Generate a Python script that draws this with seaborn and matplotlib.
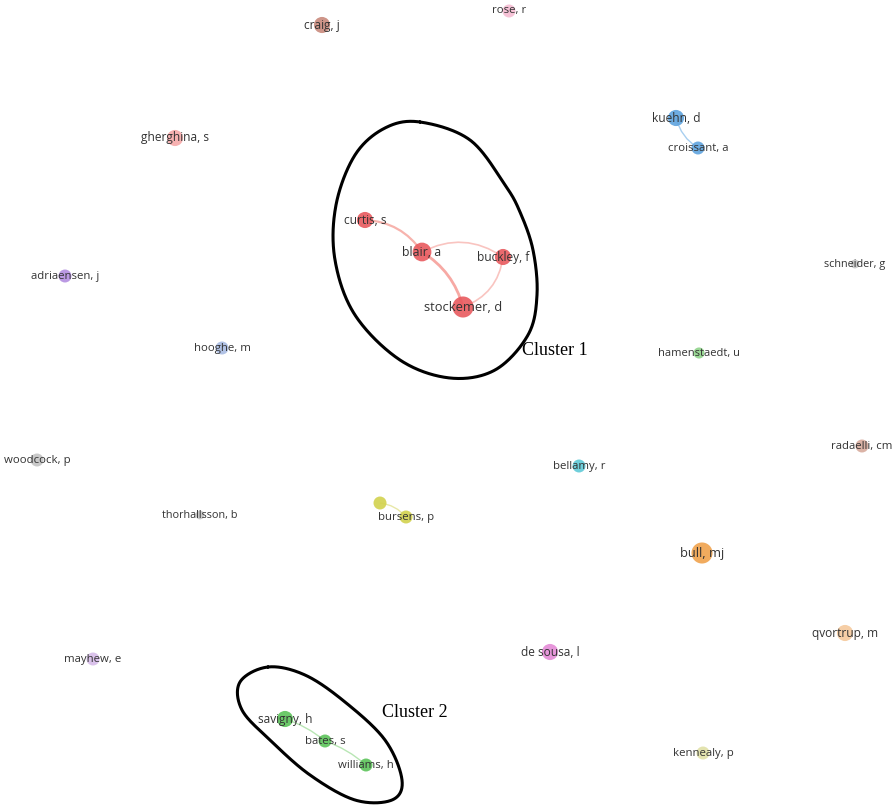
import numpy as np
import pandas as pd
import matplotlib
matplotlib.use("Agg")
import matplotlib.pyplot as plt
import seaborn as sns
from matplotlib.path import Path
from matplotlib.patches import PathPatch

# author nodes (map coordinates)
authors = ["craig, j", "rose, r", "gherghina, s", "kuehn, d", "croissant, a",
           "curtis, s", "blair, a", "buckley, f", "stockemer, d", "adriaensen, j",
           "schneider, g", "hooghe, m", "hamenstaedt, u", "woodcock, p", "radaelli, cm",
           "bellamy, r", "thorhallsson, b", "", "bursens, p", "bull, mj",
           "qvortrup, m", "de sousa, l", "mayhew, e", "savigny, h", "bates, s",
           "williams, h", "kennealy, p"]
xs = [322, 509, 175, 676, 698, 365, 422, 503, 463, 65, 855, 222, 699, 37, 862,
      579, 200, 380, 406, 702, 845, 550, 93, 285, 325, 366, 703]
ys = [25, 11, 138, 118, 148, 220, 252, 257, 307, 276, 264, 348, 353, 460, 446,
      466, 515, 503, 517, 553, 633, 652, 659, 719, 741, 765, 753]
weights = [3, 2, 3, 3, 2, 3, 4, 3, 5, 2, 1, 2, 1.5, 2, 2, 2, 1, 2, 2, 5, 3, 3, 2, 3, 2, 2, 2]
clusters = ["brown", "rose", "pink", "blue", "blue", "red", "red", "red", "red", "purple",
            "grey", "lblue", "lgreen", "grey", "tan", "cyan", "grey", "yellow", "yellow",
            "orange", "peach", "magenta", "lilac", "green", "green", "green", "olive"]
cluster_colors = {"brown": "#c98a7c", "rose": "#f5bcd2", "pink": "#f6a9a9", "blue": "#5ea3de",
                  "red": "#e85a5e", "purple": "#b48ee0", "grey": "#c4c4c4", "lblue": "#a9bce3",
                  "green": "#5cc45a", "lgreen": "#8fd38a", "tan": "#d7ab9d", "cyan": "#5fcad8",
                  "yellow": "#d2d24e", "orange": "#f0a24c", "peach": "#f5c99c",
                  "magenta": "#e48bd6", "lilac": "#d6bce9", "olive": "#e0e0a6"}

# co-authorship links: (source, target, strength, bend)
link_src = ["curtis, s", "blair, a", "blair, a", "buckley, f", "kuehn, d", "", "savigny, h", "bates, s"]
link_dst = ["blair, a", "stockemer, d", "buckley, f", "stockemer, d", "croissant, a", "bursens, p", "bates, s", "williams, h"]
link_w = [1.6, 2.0, 1.2, 1.2, 1.0, 1.0, 1.0, 1.0]
link_bend = [-0.25, -0.2, -0.3, -0.3, 0.2, -0.2, -0.1, -0.1]
link_col = ["#f7b3ad", "#f7a9a4", "#f9c4c0", "#f9c4c0", "#a8cff0", "#e8e8a8", "#b8e6b4", "#b8e6b4"]

# hand-drawn cluster outlines
c1_x = [420, 470, 505, 520, 533, 537, 528, 495, 450, 400, 355, 335, 336, 355, 385]
c1_y = [122, 140, 185, 212, 250, 295, 335, 370, 378, 360, 315, 260, 205, 155, 128]
c2_x = [268, 305, 345, 385, 402, 392, 355, 310, 270, 242, 240]
c2_y = [667, 675, 702, 740, 780, 800, 800, 775, 740, 710, 682]
cluster_names = ["Cluster 1", "Cluster 2"]
cluster_label_x = [522, 382]
cluster_label_y = [350, 712]

df = pd.DataFrame({"author": authors, "x": xs, "y": ys, "weight": weights, "cluster": clusters})
pos = {a: (x, y) for a, x, y in zip(authors, xs, ys)}


def closed_curve(px, py, n=40):
    # periodic Catmull-Rom through the outline points
    pts = np.column_stack([px, py]).astype(float)
    m = len(pts)
    out = []
    for i in range(m):
        p0, p1, p2, p3 = pts[(i - 1) % m], pts[i], pts[(i + 1) % m], pts[(i + 2) % m]
        for t in np.linspace(0, 1, n, endpoint=False):
            t2, t3 = t * t, t * t * t
            out.append(0.5 * ((2 * p1) + (-p0 + p2) * t + (2 * p0 - 5 * p1 + 4 * p2 - p3) * t2
                              + (-p0 + 3 * p1 - 3 * p2 + p3) * t3))
    out.append(out[0])
    return np.array(out)


sns.set_theme(style="white")
plt.rcParams["font.family"] = ["Open Sans", "DejaVu Sans"]
fig = plt.figure(figsize=(8.96, 8.05), dpi=100)
ax = fig.add_axes([0, 0, 1, 1])
ax.set_xlim(0, 896)
ax.set_ylim(805, 0)
ax.axis("off")

# links as curved lines
for s, d, w, b, c in zip(link_src, link_dst, link_w, link_bend, link_col):
    (x0, y0), (x1, y1) = pos[s], pos[d]
    mx, my = (x0 + x1) / 2, (y0 + y1) / 2
    dx, dy = x1 - x0, y1 - y0
    cx, cy = mx - dy * b, my + dx * b
    path = Path([(x0, y0), (cx, cy), (x1, y1)], [Path.MOVETO, Path.CURVE3, Path.CURVE3])
    ax.add_patch(PathPatch(path, fc="none", ec=c, lw=w, zorder=1))

sns.scatterplot(data=df, x="x", y="y", hue="cluster", palette=cluster_colors,
                size="weight", sizes=(40, 230), alpha=0.9, edgecolor="none",
                legend=False, ax=ax, zorder=2)

for a, x, y, w in zip(authors, xs, ys, weights):
    if a:
        ax.text(x, y, a, ha="center", va="center", fontsize=7.5 + 0.35 * w,
                color="#333333", zorder=3)

for cx, cy in [(c1_x, c1_y), (c2_x, c2_y)]:
    curve = closed_curve(cx, cy)
    ax.plot(curve[:, 0], curve[:, 1], color="black", lw=2.2, zorder=4)

for name, lx, ly in zip(cluster_names, cluster_label_x, cluster_label_y):
    ax.text(lx, ly, name, ha="left", va="center", fontsize=13,
            family=["Liberation Serif", "DejaVu Serif"], color="black", zorder=5)

fig.savefig("out.png", dpi=100, facecolor="white")
